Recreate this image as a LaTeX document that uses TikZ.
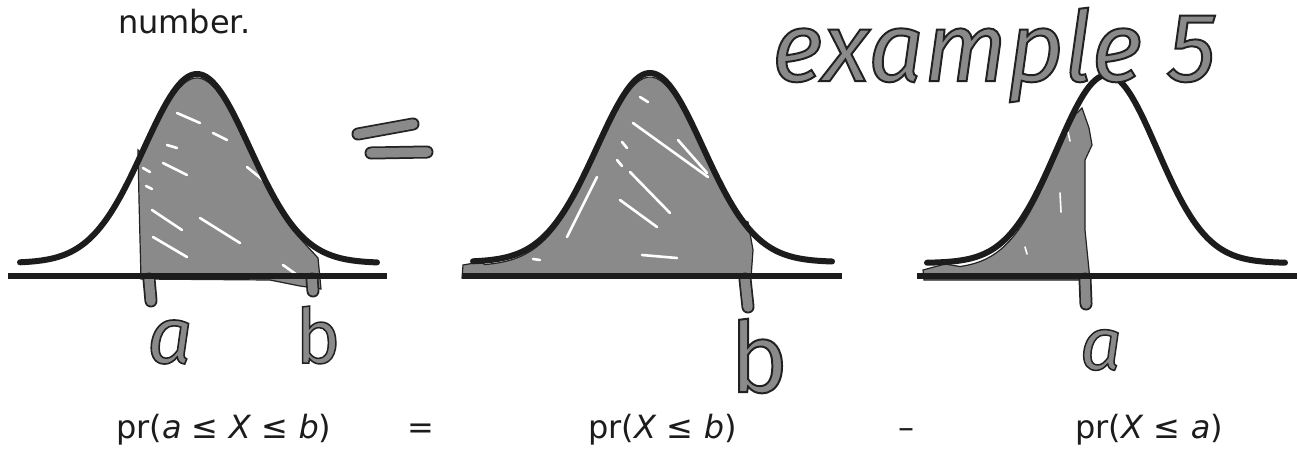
\documentclass[tikz,border=0pt]{standalone}
\usepackage{fontspec}
\setmainfont{DejaVu Sans}
\newfontfamily\hand{Fira Sans}[FakeBold=2]
\definecolor{ink}{RGB}{28,28,28}
\definecolor{mk}{RGB}{138,138,138}
\definecolor{mkedge}{RGB}{35,35,35}
\newcommand{\mkt}[1]{\special{pdf:bc [0.54] [0.13]}#1\special{pdf:ec}}
\newcommand{\marker}[1]{\draw[mkouter] #1; \draw[mkinner] #1;}
\begin{document}
\begin{tikzpicture}[x=1pt,y=-1pt,
  curve/.style={draw=ink, line width=6pt, line cap=round},
  axisline/.style={draw=ink, line width=5.5pt},
  shade/.style={fill=mk, draw=mkedge, line width=1.2pt},
  streak/.style={draw=white, line width=2.6pt, line cap=round},
  mkouter/.style={draw=mkedge, line width=13pt, line cap=round},
  mkinner/.style={draw=mk, line width=9.5pt, line cap=round},
  lbl/.style={font=\fontsize{32}{38}\selectfont, inner sep=0pt, text=ink},
  hw/.style={text=mk, inner sep=0pt}]
\useasboundingbox (0,0) rectangle (1300,451);
\fill[white] (0,0) rectangle (1300,451);

\def\gL{263-189*exp(-0.5*((\x-197)/53)^2)}
\def\gM{262-189*exp(-0.5*((\x-650)/53)^2)}
\def\gR{263-188*exp(-0.5*((\x-1107)/50)^2)}

% ---------- left figure: shaded between a and b
\def\leftregion{(141,279) -- (139,200) -- (138,150) -- plot[domain=143:300, samples=60] (\x,{\gL+4}) -- (318,258) -- (321,289) -- (300,286) -- (270,280) -- cycle}
\path[shade] \leftregion;
\begin{scope}
\clip \leftregion;
\draw[streak] (177,113) -- (200,123);
\draw[streak] (167,145) -- (177,148);
\draw[streak] (163,163) -- (187,175);
\draw[streak] (143,168) -- (150,172);
\draw[streak] (146,186) -- (152,189);
\draw[streak] (152,210) -- (182,230);
\draw[streak] (200,218) -- (240,243);
\draw[streak] (153,237) -- (187,257);
\draw[streak] (283,265) -- (300,277);
\draw[streak] (213,133) -- (227,140);
\draw[streak] (247,167) -- (263,180);
\end{scope}
\marker{(149,279) -- (151,301)}
\marker{(312,279) -- (313,291)}
\draw[curve] plot[domain=20:377, samples=120] (\x,{\gL});
\draw[axisline] (8,276) -- (387,276);

% ---------- handwritten equals sign
\marker{(358,134) -- (413,124)}
\marker{(371,153) -- (427,152)}

% ---------- middle figure: shaded up to b
\def\midregion{(462,278) -- (463,265) -- (480,262) -- plot[domain=485:738, samples=60] (\x,{\gM+4}) -- (748,222) -- (753,250) -- (751,278) -- cycle}
\path[shade] \midregion;
\begin{scope}
\clip \midregion;
\draw[streak] (640,97) -- (648,102);
\draw[streak] (633,123) -- (708,177);
\draw[streak] (678,140) -- (707,173);
\draw[streak] (622,142) -- (627,148);
\draw[streak] (617,160) -- (622,166);
\draw[streak] (630,172) -- (670,213);
\draw[streak] (620,200) -- (657,227);
\draw[streak] (642,255) -- (677,258);
\draw[streak] (597,177) -- (567,237);
\draw[streak] (533,259) -- (540,260);
\end{scope}
\marker{(745,279) -- (748,307)}
\draw[curve] plot[domain=473:832, samples=120] (\x,{\gM});
\draw[axisline] (462,276) -- (842,276);

% ---------- right figure: shaded up to a
\def\rightregion{(924,280) -- (923,270) -- (945,264) -- plot[domain=960:1076, samples=50] (\x,{\gR+6}) -- (1082,108) -- (1089,128) -- (1092,145) -- (1085,160) -- (1085,230) -- (1090,280) -- cycle}
\path[shade] \rightregion;
\begin{scope}
\clip \rightregion;
\draw[streak, line width=1.6pt] (1068,132) -- (1070,141);
\draw[streak, line width=1.6pt] (1060,193) -- (1061,212);
\draw[streak, line width=1.6pt] (1025,247) -- (1027,254);
\end{scope}
\marker{(1085,279) -- (1086,304)}
\draw[curve] plot[domain=927:1285, samples=120] (\x,{\gR});
\draw[axisline] (917,276) -- (1297,276);

% ---------- printed text
\node[lbl, anchor=base west] (num) at (118,33) {number.};
\node[lbl, anchor=base west] (p1) at (116,438) {pr(\textit{a} ≤ \textit{X} ≤ \textit{b})};
\node[lbl, anchor=base] (eq) at (421,438) {=};
\node[lbl, anchor=base west] (p2) at (588,438) {pr(\textit{X} ≤ \textit{b})};
\node[lbl, anchor=base] (minus) at (906,438) {–};
\node[lbl, anchor=base west] (p3) at (1075,438) {pr(\textit{X} ≤ \textit{a})};

% ---------- handwritten labels
\node[hw, font=\hand\itshape\fontsize{80}{80}\selectfont] (ha1) at (170,342) {\mkt{a}};
\node[hw, font=\hand\fontsize{76}{76}\selectfont] (hb1) at (318,335) {\mkt{b}};
\node[hw, font=\hand\fontsize{98}{98}\selectfont] (hb2) at (759,356) {\mkt{b}};
\node[hw, font=\hand\itshape\fontsize{74}{74}\selectfont] (ha2) at (1101,350) {\mkt{a}};
\node[hw, font=\hand\itshape\fontsize{98}{98}\selectfont] (ex) at (994,55) {\mkt{example 5}};
\end{tikzpicture}
\end{document}
